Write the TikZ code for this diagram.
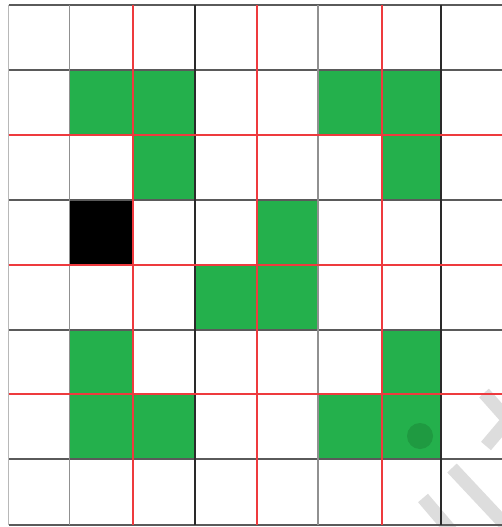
\documentclass[tikz,border=0pt]{standalone}
\usetikzlibrary{calc}
\definecolor{cellGreen}{HTML}{24B04C}
\definecolor{markGreen}{HTML}{1F9A41}
\definecolor{lineDark}{HTML}{5A5A5A}
\definecolor{lineMid}{HTML}{909090}
\definecolor{lineLight}{HTML}{B8B8B8}
\definecolor{lineDeep}{HTML}{2A2A2A}
\definecolor{blockRed}{HTML}{EE3A3E}
\definecolor{stampGrey}{HTML}{DDDDDD}
\newcommand{\gridxs}{{8.5,69.5,133,195,257,318,382,441,502}}
\newcommand{\gridys}{{5,70,135,200,265,330,394,459,525}}

\begin{document}
\begin{tikzpicture}[
  x=1pt, y=-1pt,
  goal/.style={fill=cellGreen},
  wall/.style={fill=black},
  stamp/.style={draw=stampGrey, line width=13pt},
  rule/.style={line width=1.2pt},
  blockline/.style={draw=blockRed, line width=1.4pt}
]
\useasboundingbox (0,0) rectangle (502,527);
\fill[white] (0,0) rectangle (502,527);
\clip (0,0) rectangle (502,527);

% green cells (column/row)
\foreach \c/\r in {1/1,2/1,5/1,6/1,2/2,6/2,4/3,3/4,4/4,1/5,6/5,1/6,2/6,5/6,6/6} {
  \pgfmathsetmacro\xa{\gridxs[\c]}
  \pgfmathsetmacro\xb{\gridxs[\c+1]}
  \pgfmathsetmacro\ya{\gridys[\r]}
  \pgfmathsetmacro\yb{\gridys[\r+1]}
  \fill[goal] (\xa,\ya) rectangle (\xb,\yb);
}
% black cell
\fill[wall] (69.5,200) rectangle (133,265);

% watermark strokes
\draw[stamp] (484,393) -- (508,420) -- (486,446);
\draw[stamp] (452,468) -- (512,532);
\draw[stamp] (423,498) -- (452,532);

% marker
\fill[markGreen] (420,436) circle (13);

% grid lines
\foreach \y in {5,70,200,330,459,525}
  \draw[rule, lineDark] (8.5,\y) -- (502,\y);
\foreach \x/\shade in {8.5/lineLight,69.5/lineMid,195/lineDeep,318/lineMid,441/lineDeep}
  \draw[rule, \shade] (\x,5) -- (\x,525);

% block boundaries
\foreach \x in {133,257,382}
  \draw[blockline] (\x,5) -- (\x,525);
\foreach \y in {135,265,394}
  \draw[blockline] (8.5,\y) -- (502,\y);

\end{tikzpicture}
\end{document}
